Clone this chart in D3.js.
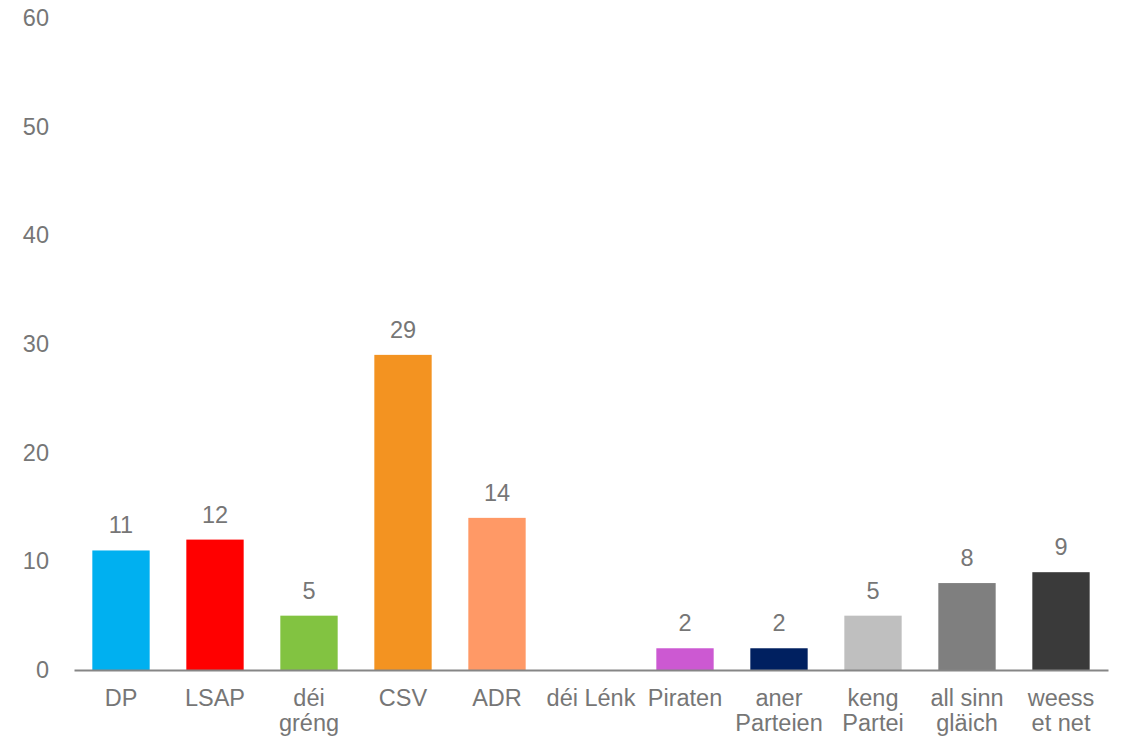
<!DOCTYPE html>
<html>
<head>
<meta charset="utf-8">
<script src="https://cdn.jsdelivr.net/npm/d3@7"></script>
<style>
  html, body { margin: 0; padding: 0; background: #fff; }
  svg text { font-family: "Liberation Sans", Arial, sans-serif; fill: #767676; }
</style>
</head>
<body>
<svg width="1122" height="740"></svg>
<script>
const categories = ["DP", "LSAP", "déi gréng", "CSV", "ADR", "déi Lénk", "Piraten",
  "aner Parteien", "keng Partei", "all sinn gläich", "weess et net"];
const tickLines = [["DP"], ["LSAP"], ["déi", "gréng"], ["CSV"], ["ADR"], ["déi Lénk"],
  ["Piraten"], ["aner", "Parteien"], ["keng", "Partei"], ["all sinn", "gläich"], ["weess", "et net"]];
const values = [11, 12, 5, 29, 14, 0, 2, 2, 5, 8, 9];
const barColors = ["#00B0F0", "#FF0000", "#82C341", "#F39321", "#FF9966", "#E0E0E0",
  "#CC59D2", "#002060", "#BFBFBF", "#7F7F7F", "#3A3A3A"];
const yTicks = [0, 10, 20, 30, 40, 50, 60];

const svg = d3.select("svg");
const fontSize = 23.5;

const x = d3.scaleBand()
  .domain(categories)
  .range([74, 1108])
  .paddingInner(0.39)
  .paddingOuter(0.195);

const y = d3.scaleLinear()
  .domain([0, 60])
  .range([670, 18]);

// y axis labels (no line)
const yAxis = svg.append("g")
  .attr("transform", "translate(74,0)")
  .call(d3.axisLeft(y).tickValues(yTicks).tickSize(0).tickPadding(25));
yAxis.select(".domain").remove();
yAxis.selectAll("text")
  .style("font-size", fontSize + "px")
  .attr("fill", "#767676");

// bars
svg.append("g")
  .selectAll("rect")
  .data(values)
  .join("rect")
  .attr("x", (d, i) => x(categories[i]))
  .attr("width", x.bandwidth())
  .attr("y", d => y(d))
  .attr("height", d => y(0) - y(d))
  .attr("fill", (d, i) => barColors[i]);

// value labels
svg.append("g")
  .selectAll("text")
  .data(values)
  .join("text")
  .attr("x", (d, i) => x(categories[i]) + x.bandwidth() / 2)
  .attr("y", d => y(d) - 17)
  .attr("text-anchor", "middle")
  .style("font-size", fontSize + "px")
  .text(d => d > 0 ? d : "");

// x axis
const xAxis = svg.append("g")
  .attr("transform", "translate(0," + y(0) + ")")
  .call(d3.axisBottom(x).tickSize(0).tickSizeOuter(0).tickFormat(""));
xAxis.select(".domain")
  .attr("stroke", "#868686")
  .attr("stroke-width", 2);

xAxis.selectAll(".tick").each(function (d, i) {
  const t = d3.select(this).append("text")
    .attr("text-anchor", "middle")
    .attr("fill", "#767676")
    .style("font-size", fontSize + "px");
  tickLines[i].forEach((line, j) => {
    t.append("tspan")
      .attr("x", 0)
      .attr("y", 36 + j * 25)
      .text(line);
  });
});
</script>
</body>
</html>
